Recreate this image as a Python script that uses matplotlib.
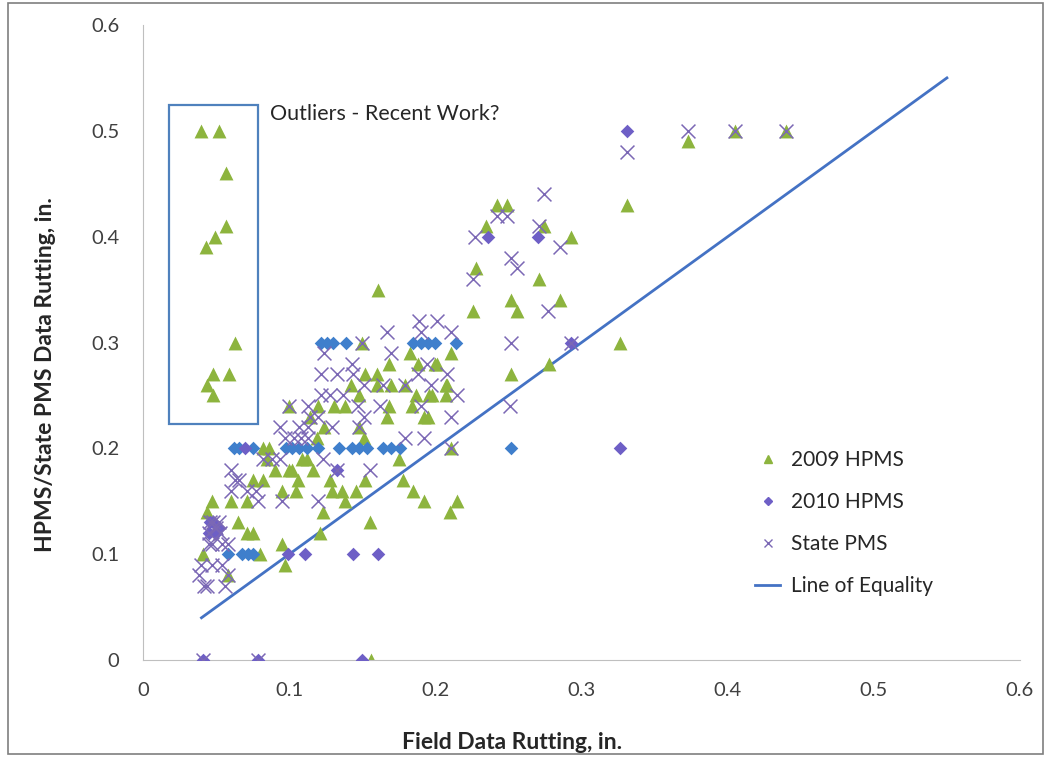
"""Field vs HPMS/State PMS rutting scatter with line of equality -> out.png."""

import matplotlib

matplotlib.use("Agg")
import matplotlib.pyplot as plt
from matplotlib.patches import Rectangle
from matplotlib.lines import Line2D

plt.rcParams["font.family"] = ["Lato", "DejaVu Sans"]

# 2009 HPMS (green triangles)
hpms09_x = [0.040, 0.052, 0.057, 0.057, 0.049, 0.043, 0.063, 0.048, 0.059, 0.044, 0.048,
            0.373, 0.405, 0.440, 0.331,
            0.242, 0.249, 0.235, 0.274, 0.293, 0.228, 0.271, 0.252, 0.256, 0.285, 0.226,
            0.326, 0.278, 0.252,
            0.211, 0.201, 0.198, 0.207, 0.207, 0.200, 0.208,
            0.161, 0.150, 0.183, 0.168, 0.188, 0.152, 0.160, 0.142, 0.160, 0.170, 0.179,
            0.187, 0.196, 0.148, 0.168, 0.100, 0.120, 0.131, 0.138, 0.184, 0.167, 0.192,
            0.195, 0.124, 0.148, 0.119, 0.151, 0.211, 0.082, 0.086, 0.109, 0.175, 0.100,
            0.116, 0.128, 0.152, 0.178, 0.185, 0.106, 0.129, 0.136, 0.146, 0.105, 0.192,
            0.215, 0.210, 0.138, 0.123, 0.155, 0.121, 0.156, 0.114, 0.112,
            0.085, 0.090, 0.075, 0.082, 0.095, 0.102, 0.047, 0.060, 0.071, 0.044,
            0.065, 0.071, 0.075, 0.041, 0.080, 0.095, 0.097, 0.058]
hpms09_y = [0.50, 0.50, 0.46, 0.41, 0.40, 0.39, 0.30, 0.27, 0.27, 0.26, 0.25,
            0.49, 0.50, 0.50, 0.43,
            0.43, 0.43, 0.41, 0.41, 0.40, 0.37, 0.36, 0.34, 0.33, 0.34, 0.33,
            0.30, 0.28, 0.27,
            0.29, 0.28, 0.25, 0.26, 0.25, 0.28, 0.26,
            0.35, 0.30, 0.29, 0.28, 0.28, 0.27, 0.27, 0.26, 0.26, 0.26, 0.26,
            0.25, 0.25, 0.25, 0.24, 0.24, 0.24, 0.24, 0.24, 0.24, 0.23, 0.23,
            0.23, 0.22, 0.22, 0.21, 0.21, 0.20, 0.20, 0.20, 0.19, 0.19, 0.18,
            0.18, 0.17, 0.17, 0.17, 0.16, 0.17, 0.16, 0.16, 0.16, 0.16, 0.15,
            0.15, 0.14, 0.15, 0.14, 0.13, 0.12, 0.00, 0.23, 0.19,
            0.19, 0.18, 0.17, 0.17, 0.16, 0.18, 0.15, 0.15, 0.15, 0.14,
            0.13, 0.12, 0.12, 0.10, 0.10, 0.11, 0.09, 0.08]

# 2010 HPMS (purple diamonds)
hpms10_x = [0.331, 0.236, 0.270, 0.293, 0.326, 0.133, 0.041, 0.079, 0.150,
            0.111, 0.144, 0.161, 0.099, 0.045, 0.048, 0.050, 0.052, 0.046, 0.070]
hpms10_y = [0.50, 0.40, 0.40, 0.30, 0.20, 0.18, 0.00, 0.00, 0.00,
            0.10, 0.10, 0.10, 0.10, 0.12, 0.13, 0.12, 0.125, 0.13, 0.20]

# 2010 HPMS points drawn in the lighter blue
hpms10b_x = [0.122, 0.126, 0.130, 0.139, 0.185, 0.190, 0.195, 0.200, 0.214,
             0.062, 0.066, 0.075, 0.098, 0.102, 0.107, 0.112, 0.120, 0.134, 0.143,
             0.148, 0.153, 0.164, 0.170, 0.176, 0.252,
             0.058, 0.068, 0.072, 0.075]
hpms10b_y = [0.30, 0.30, 0.30, 0.30, 0.30, 0.30, 0.30, 0.30, 0.30,
             0.20, 0.20, 0.20, 0.20, 0.20, 0.20, 0.20, 0.20, 0.20, 0.20,
             0.20, 0.20, 0.20, 0.20, 0.20, 0.20,
             0.10, 0.10, 0.10, 0.10]

# State PMS (x markers)
state_x = [0.373, 0.405, 0.440, 0.331, 0.274, 0.242, 0.249, 0.227, 0.271, 0.285,
           0.252, 0.256, 0.226, 0.277, 0.252, 0.293, 0.251,
           0.189, 0.201, 0.211, 0.167, 0.190, 0.208, 0.215, 0.150, 0.124, 0.170,
           0.143, 0.194, 0.122, 0.133, 0.144, 0.151, 0.164, 0.179, 0.188, 0.197,
           0.122, 0.128, 0.137, 0.100, 0.113, 0.147, 0.162, 0.190, 0.211, 0.114,
           0.120, 0.151, 0.094, 0.107, 0.113, 0.129, 0.148, 0.097, 0.103, 0.108,
           0.113, 0.179, 0.192, 0.211, 0.123, 0.082, 0.088, 0.094, 0.133, 0.155,
           0.120,
           0.060, 0.063, 0.066, 0.060, 0.071, 0.077, 0.079, 0.095, 0.045, 0.047,
           0.054, 0.058, 0.040, 0.047, 0.054, 0.058, 0.038, 0.042, 0.044, 0.056,
           0.041, 0.079, 0.045, 0.048, 0.050, 0.053, 0.046, 0.052]
state_y = [0.50, 0.50, 0.50, 0.48, 0.44, 0.42, 0.42, 0.40, 0.41, 0.39,
           0.38, 0.37, 0.36, 0.33, 0.30, 0.30, 0.24,
           0.32, 0.32, 0.31, 0.31, 0.31, 0.27, 0.25, 0.30, 0.29, 0.29,
           0.28, 0.28, 0.27, 0.27, 0.27, 0.26, 0.26, 0.26, 0.27, 0.26,
           0.25, 0.25, 0.25, 0.24, 0.24, 0.24, 0.24, 0.24, 0.23, 0.23,
           0.23, 0.23, 0.22, 0.22, 0.22, 0.22, 0.22, 0.21, 0.21, 0.21,
           0.21, 0.21, 0.21, 0.20, 0.19, 0.19, 0.19, 0.19, 0.18, 0.18,
           0.15,
           0.18, 0.17, 0.17, 0.16, 0.16, 0.16, 0.15, 0.15, 0.11, 0.11,
           0.11, 0.11, 0.09, 0.09, 0.09, 0.08, 0.08, 0.07, 0.07, 0.07,
           0.00, 0.00, 0.12, 0.13, 0.125, 0.12, 0.13, 0.13]

equality = [0.04, 0.55]
outlier_box = (0.018, 0.223, 0.061, 0.301)  # x, y, width, height

GREEN = "#8DB43E"
PURPLE = "#6E5FC6"
BLUE = "#3F7FCC"
XCOL = "#7B68B5"
LINE = "#4472C4"

fig = plt.figure(figsize=(10.47, 7.57), dpi=100)
ax = fig.add_axes([0.1366, 0.128, 0.8376, 0.839])

ax.plot(equality, equality, color=LINE, lw=2, zorder=1)
ax.scatter(hpms09_x, hpms09_y, marker="^", s=100, color=GREEN, linewidths=0, zorder=2)
ax.scatter(hpms10b_x, hpms10b_y, marker="D", s=48, color=BLUE, linewidths=0, zorder=3)
ax.scatter(hpms10_x, hpms10_y, marker="D", s=48, color=PURPLE, linewidths=0, zorder=3)
ax.scatter(state_x, state_y, marker="x", s=100, color=XCOL, linewidths=1.1, zorder=4)

bx, by, bw, bh = outlier_box
ax.add_patch(Rectangle((bx, by), bw, bh, fill=False, edgecolor="#4F81BD", lw=1.6, zorder=5))
ax.text(0.087, 0.516, "Outliers - Recent Work?", fontsize=15.5, color="#262626",
        va="center", ha="left")

ax.set_xlim(0, 0.6)
ax.set_ylim(0, 0.6)
ticks = [0, 0.1, 0.2, 0.3, 0.4, 0.5, 0.6]
tick_labels = ["0", "0.1", "0.2", "0.3", "0.4", "0.5", "0.6"]
ax.set_xticks(ticks, tick_labels)
ax.set_yticks(ticks, tick_labels)
ax.tick_params(labelsize=14.5, colors="#404040", length=0)
ax.tick_params(axis="x", pad=16)
ax.tick_params(axis="y", pad=17)
for s in ("top", "right"):
    ax.spines[s].set_visible(False)
for s in ("left", "bottom"):
    ax.spines[s].set_color("#BFBFBF")

ax.set_xlabel("Field Data Rutting, in.", fontsize=16.5, fontweight="bold", color="#262626",
              va="center")
ax.xaxis.set_label_coords(0.421, -0.129)
ax.set_ylabel("HPMS/State PMS Data Rutting, in.", fontsize=16.5, fontweight="bold",
              color="#262626", va="center")
ax.yaxis.set_label_coords(-0.111, 0.449)

handles = [
    Line2D([], [], ls="none", marker="^", ms=6, color=GREEN),
    Line2D([], [], ls="none", marker="D", ms=4, color=PURPLE),
    Line2D([], [], ls="none", marker="x", ms=6, color=XCOL, mew=1),
    Line2D([], [], color=LINE, lw=2),
]
labels = ["2009 HPMS", "2010 HPMS", "State PMS", "Line of Equality"]
ax.legend(handles, labels, loc="upper left", bbox_to_anchor=(0.677, 0.36), frameon=False,
          fontsize=15, handlelength=1.2, handletextpad=0.5, labelspacing=1.05,
          labelcolor="#262626")

fig.add_artist(Rectangle((0.008, 0.004), 0.988, 0.992, transform=fig.transFigure,
                         fill=False, edgecolor="#7F7F7F", lw=1.2))

fig.savefig("out.png", dpi=100)
